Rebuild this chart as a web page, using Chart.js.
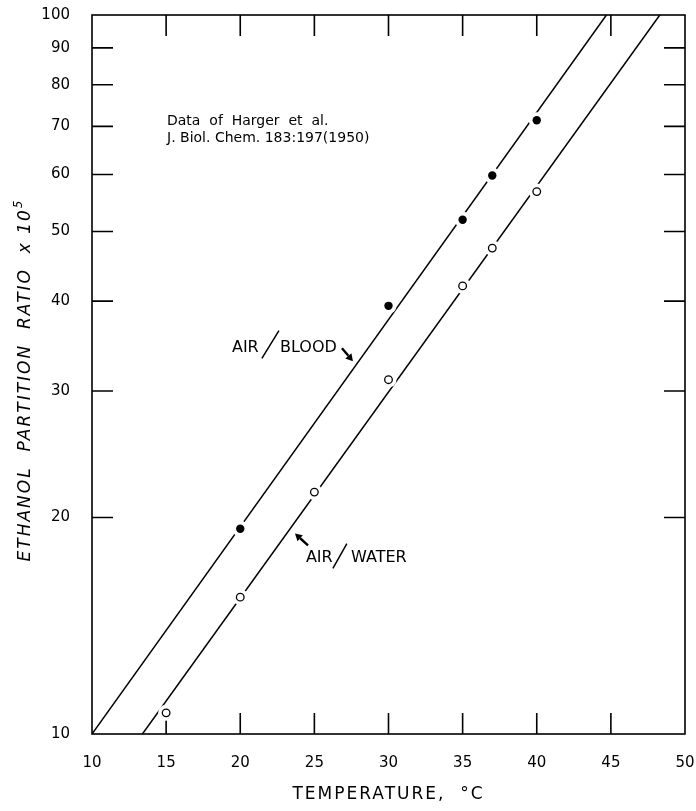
<!DOCTYPE html>
<html>
<head>
<meta charset="utf-8">
<script src="https://cdn.jsdelivr.net/npm/chart.js@4.4.0/dist/chart.umd.min.js"></script>
<style>
  html, body { margin: 0; padding: 0; background: #fff; }
  canvas { display: block; }
</style>
</head>
<body>
<canvas id="chart" width="696" height="811"></canvas>
<script>
// measured points (Harger et al. 1950)
var bloodTemps = [20, 30, 35, 37, 40];
var bloodRatios = [19.3, 39.4, 51.9, 59.8, 71.4];
var waterTemps = [15, 20, 25, 30, 35, 37, 40];
var waterRatios = [10.7, 15.5, 21.7, 31.1, 42.0, 47.4, 56.8];

// drawn lines, end points
var bloodLineTemps = [10, 44.7];
var bloodLineRatios = [10, 100];
var waterLineTemps = [13.4, 48.3];
var waterLineRatios = [10, 100];

var xTicks = [10, 15, 20, 25, 30, 35, 40, 45, 50];
var yTicks = [10, 20, 30, 40, 50, 60, 70, 80, 90, 100];

var FONT = 'DejaVu Sans';
var TICK_LEN = 21;

function toPoints(xs, ys) {
	return xs.map(function(x, i) { return {x: x, y: ys[i]}; });
}

// frame and inward tick marks
var frameTicks = {
	id: 'frameTicks',
	beforeDatasetsDraw: function(chart) {
		var ctx = chart.ctx, a = chart.chartArea;
		var xs = chart.scales.x, ys = chart.scales.y;
		ctx.save();
		ctx.strokeStyle = '#000';
		ctx.lineWidth = 1.6;
		ctx.strokeRect(a.left, a.top, a.right - a.left, a.bottom - a.top);
		ctx.beginPath();
		xTicks.slice(1, -1).forEach(function(t) {
			var px = xs.getPixelForValue(t);
			ctx.moveTo(px, a.bottom); ctx.lineTo(px, a.bottom - TICK_LEN);
			ctx.moveTo(px, a.top); ctx.lineTo(px, a.top + TICK_LEN);
		});
		yTicks.slice(1, -1).forEach(function(v) {
			var py = ys.getPixelForValue(v);
			ctx.moveTo(a.left, py); ctx.lineTo(a.left + TICK_LEN, py);
			ctx.moveTo(a.right, py); ctx.lineTo(a.right - TICK_LEN, py);
		});
		ctx.stroke();
		ctx.restore();
	}
};

function arrow(ctx, x0, y0, x1, y1) {
	var ang = Math.atan2(y1 - y0, x1 - x0), hl = 7, hw = 4;
	var bx = x1 - hl * Math.cos(ang), by = y1 - hl * Math.sin(ang);
	ctx.beginPath();
	ctx.lineWidth = 2.4;
	ctx.moveTo(x0, y0); ctx.lineTo(bx, by);
	ctx.stroke();
	ctx.beginPath();
	ctx.moveTo(x1, y1);
	ctx.lineTo(bx + hw * Math.sin(ang), by - hw * Math.cos(ang));
	ctx.lineTo(bx - hw * Math.sin(ang), by + hw * Math.cos(ang));
	ctx.closePath();
	ctx.fill();
}

// texts: note, line labels, axis titles
var labels = {
	id: 'labels',
	afterDraw: function(chart) {
		var ctx = chart.ctx, a = chart.chartArea;
		var xs = chart.scales.x, ys = chart.scales.y;
		function P(t, v) { return [xs.getPixelForValue(t), ys.getPixelForValue(v)]; }
		ctx.save();
		ctx.fillStyle = '#000';
		ctx.strokeStyle = '#000';
		ctx.textBaseline = 'alphabetic';
		ctx.textAlign = 'left';

		ctx.font = '14px "' + FONT + '"';
		var p = P(15.06, 70.3);
		ctx.fillText('Data  of  Harger  et  al.', p[0], p[1]);
		p = P(15.06, 66.6);
		ctx.fillText('J. Biol. Chem. 183:197(1950)', p[0], p[1]);

		ctx.font = '16px "' + FONT + '"';
		p = P(19.44, 34.0);
		ctx.fillText('AIR', p[0], p[1]);
		p = P(22.68, 34.0);
		ctx.fillText('BLOOD', p[0], p[1]);
		p = P(24.43, 17.35);
		ctx.fillText('AIR', p[0], p[1]);
		p = P(27.47, 17.35);
		ctx.fillText('WATER', p[0], p[1]);

		ctx.lineWidth = 1.5;
		ctx.beginPath();
		var s0 = P(21.46, 33.3), s1 = P(22.61, 36.4);
		ctx.moveTo(s0[0], s0[1]); ctx.lineTo(s1[0], s1[1]);
		s0 = P(26.25, 17.0); s1 = P(27.19, 18.4);
		ctx.moveTo(s0[0], s0[1]); ctx.lineTo(s1[0], s1[1]);
		ctx.stroke();

		var t0 = P(26.86, 34.4), t1 = P(27.6, 33.0);
		arrow(ctx, t0[0], t0[1], t1[0], t1[1]);
		t0 = P(24.57, 18.3); t1 = P(23.69, 19.0);
		arrow(ctx, t0[0], t0[1], t1[0], t1[1]);

		// x title
		ctx.font = '17px "' + FONT + '"';
		ctx.letterSpacing = '2px';
		ctx.textAlign = 'center';
		ctx.textBaseline = 'middle';
		ctx.fillText('TEMPERATURE,  °C', (a.left + a.right) / 2, 795);

		// y title, rotated, with superscript
		ctx.translate(26, 380);
		ctx.rotate(-Math.PI / 2);
		ctx.textAlign = 'left';
		ctx.font = 'italic 17px "' + FONT + '"';
		var main = 'ETHANOL  PARTITION  RATIO  x 10';
		var wMain = ctx.measureText(main).width;
		ctx.font = 'italic 12px "' + FONT + '"';
		var wSup = ctx.measureText('5').width;
		var x0 = -(wMain + wSup) / 2;
		ctx.font = 'italic 17px "' + FONT + '"';
		ctx.fillText(main, x0, 0);
		ctx.font = 'italic 12px "' + FONT + '"';
		ctx.fillText('5', x0 + wMain, -7);
		ctx.restore();
	}
};

// let labels overhang; chart area comes from layout padding only
function noOverhang(scale) {
	scale.paddingLeft = 0;
	scale.paddingRight = 0;
	scale.paddingTop = 0;
	scale.paddingBottom = 0;
}

var black = '#000', white = '#fff';

var chart = new Chart(document.getElementById('chart'), {
	type: 'scatter',
	data: {
		datasets: [
			{ data: toPoints(bloodLineTemps, bloodLineRatios), showLine: true, borderColor: black, borderWidth: 1.5, pointRadius: 0, order: 3 },
			{ data: toPoints(waterLineTemps, waterLineRatios), showLine: true, borderColor: black, borderWidth: 1.5, pointRadius: 0, order: 3 },
			// white gaps in the lines around the symbols
			{ data: toPoints(bloodTemps, bloodRatios), pointRadius: 8, backgroundColor: white, borderWidth: 0, order: 2 },
			{ data: toPoints(waterTemps, waterRatios), pointRadius: 8, backgroundColor: white, borderWidth: 0, order: 2 },
			{ data: toPoints(bloodTemps, bloodRatios), pointRadius: 4.2, backgroundColor: black, borderWidth: 0, order: 1 },
			{ data: toPoints(waterTemps, waterRatios), pointRadius: 3.8, backgroundColor: white, borderColor: black, borderWidth: 1.3, order: 1 }
		]
	},
	options: {
		responsive: false,
		animation: false,
		layout: { padding: { left: 0, right: 11, top: 15, bottom: 0 } },
		plugins: { legend: { display: false }, tooltip: { enabled: false } },
		scales: {
			x: {
				type: 'linear', min: 10, max: 50,
				afterBuildTicks: function(scale) { scale.ticks = xTicks.map(function(v) { return {value: v}; }); },
				afterFit: function(scale) { scale.height = 77; noOverhang(scale); },
				grid: { display: false, drawTicks: false },
				border: { display: false },
				ticks: { color: black, padding: 20, maxRotation: 0, autoSkip: false, font: { family: FONT, size: 15 } }
			},
			y: {
				type: 'logarithmic', min: 10, max: 100,
				afterBuildTicks: function(scale) { scale.ticks = yTicks.map(function(v) { return {value: v}; }); },
				afterFit: function(scale) { scale.width = 92; noOverhang(scale); },
				grid: { display: false, drawTicks: false },
				border: { display: false },
				ticks: { color: black, padding: 22, autoSkip: false, font: { family: FONT, size: 15 },
					callback: function(v) { return String(v); } }
			}
		}
	},
	plugins: [frameTicks, labels]
});
</script>
</body>
</html>
